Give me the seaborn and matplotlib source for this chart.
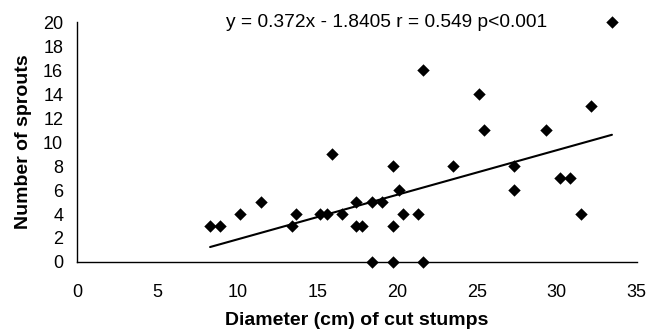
import matplotlib
matplotlib.use("Agg")
import matplotlib.pyplot as plt
import seaborn as sns
import numpy as np
import pandas as pd

diameter = [8.3, 8.9, 10.2, 11.5, 13.4, 13.7, 15.2, 15.6, 15.95, 16.55,
            17.45, 17.45, 17.8, 18.45, 19.05, 18.45, 19.75, 19.75, 19.75, 20.1,
            20.4, 21.3, 21.65, 21.65, 23.5, 25.15, 25.45, 27.3, 27.3, 29.3,
            30.2, 30.85, 31.5, 32.15, 33.45]
sprouts = [3, 3, 4, 5, 3, 4, 4, 4, 9, 4,
           5, 3, 3, 5, 5, 0, 8, 3, 0, 6,
           4, 4, 16, 0, 8, 14, 11, 8, 6, 11,
           7, 7, 4, 13, 20]
slope = 0.372
intercept = -1.8405
equation_text = "y = 0.372x - 1.8405 r = 0.549 p<0.001"
x_ticks = [0, 5, 10, 15, 20, 25, 30, 35]
y_ticks = [0, 2, 4, 6, 8, 10, 12, 14, 16, 18, 20]

df = pd.DataFrame({"Diameter": diameter, "Sprouts": sprouts})
xl = np.array([min(diameter), max(diameter)])
line_df = pd.DataFrame({"x": xl, "y": slope * xl + intercept})

sns.set_theme(style="white")
plt.rcParams['font.family'] = ['Liberation Sans', 'DejaVu Sans']
plt.rcParams['text.color'] = 'black'
plt.rcParams['axes.labelcolor'] = 'black'

fig = plt.figure(figsize=(6.6, 3.34), dpi=100)
ax = fig.add_axes([0.1174, 0.2156, 0.9647 - 0.1174, 0.934 - 0.2156])

sns.lineplot(data=line_df, x="x", y="y", color="black", linewidth=1.5, ax=ax)
sns.scatterplot(data=df, x="Diameter", y="Sprouts", marker="D", s=40,
                color="black", edgecolor="black", linewidth=0, ax=ax, zorder=3,
                clip_on=False)

ax.set_xlim(0, 35)
ax.set_ylim(0, 20)
ax.set_xticks(x_ticks)
ax.set_yticks(y_ticks)
ax.tick_params(axis="both", direction="out", length=3.8, width=1, color="black",
               labelsize=13, labelcolor="black")
ax.tick_params(axis="x", pad=12)
ax.tick_params(axis="y", pad=6.5)
for s in ["top", "right"]:
    ax.spines[s].set_visible(False)
for s in ["left", "bottom"]:
    ax.spines[s].set_color("black")
    ax.spines[s].set_linewidth(1)
ax.set_xlabel("Diameter (cm) of cut stumps", fontsize=14, fontweight="bold",
              labelpad=8, color="black")
ax.set_ylabel("Number of sprouts", fontsize=14, fontweight="bold", labelpad=8,
              color="black")
ax.text(0.2656, 1.0, equation_text, transform=ax.transAxes, fontsize=13.8,
        ha="left", va="center", color="black")

fig.savefig("out.png", dpi=100, facecolor="white")
